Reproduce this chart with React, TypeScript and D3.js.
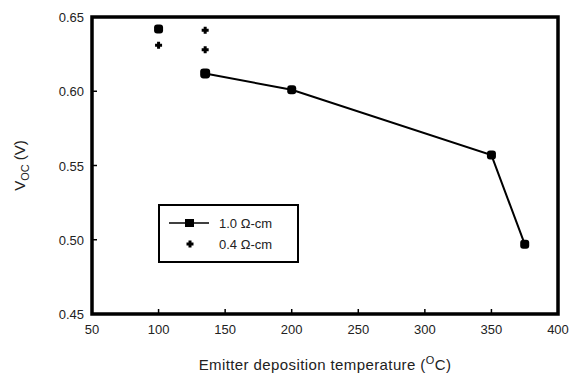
import React from "react";
import * as d3 from "d3";

const lineTemps = [135, 200, 350, 375];
const lineVoc = [0.612, 0.601, 0.557, 0.497];
const extra10Temps = [100];
const extra10Voc = [0.642];
const p04Temps = [100, 135, 135];
const p04Voc = [0.631, 0.641, 0.628];
const xTicks = [50, 100, 150, 200, 250, 300, 350, 400];
const yTicks = [0.45, 0.5, 0.55, 0.6, 0.65];
const legendLabels = ["1.0 Ω-cm", "0.4 Ω-cm"];

const W = 573, H = 379;
const L = 92, R = 558, T = 17, B = 314;

export default function App() {
  const x = d3.scaleLinear().domain([50, 400]).range([L, R]);
  const y = d3.scaleLinear().domain([0.45, 0.65]).range([B, T]);
  const line = d3.line<number>().x((d, i) => x(lineTemps[i])).y((d) => y(d));
  const font = "Liberation Sans, Arial, sans-serif";
  const plus = (cx: number, cy: number, k: string) => (
    <path key={k} d={`M${cx - 3.5},${cy}h7M${cx},${cy - 3.5}v7`} stroke="#000" strokeWidth={3} />
  );
  const marker = (cx: number, cy: number, s: number, k: string) => (
    <rect key={k} x={cx - s / 2} y={cy - s / 2} width={s} height={s} rx={s / 3} fill="#000" />
  );
  return (
    <svg width={W} height={H} style={{ position: "absolute", left: 0, top: 0, background: "#fff" }}>
      <rect x={0} y={0} width={W} height={H} fill="#fff" />
      {xTicks.slice(1, -1).map((t) => (
        <line key={"xt" + t} x1={x(t)} x2={x(t)} y1={B} y2={B - 5} stroke="#000" strokeWidth={1.5} />
      ))}
      {yTicks.slice(1, -1).map((t) => (
        <line key={"yt" + t} x1={L} x2={L + 5} y1={y(t)} y2={y(t)} stroke="#000" strokeWidth={1.5} />
      ))}
      <rect x={L} y={T} width={R - L} height={B - T} fill="none" stroke="#000" strokeWidth={3.5} />
      {xTicks.map((t) => (
        <text key={"xl" + t} x={x(t)} y={B + 20} textAnchor="middle" fontFamily={font} fontSize={13} fill="#222">
          {t}
        </text>
      ))}
      {yTicks.map((t) => (
        <text key={"yl" + t} x={L - 8} y={y(t) + 5} textAnchor="end" fontFamily={font} fontSize={13} fill="#222">
          {t.toFixed(2)}
        </text>
      ))}
      <text x={325} y={370} textAnchor="middle" fontFamily={font} fontSize={15} fill="#222" letterSpacing={0.4}>
        Emitter deposition temperature (<tspan dy={-6} fontSize={11}>O</tspan>
        <tspan dy={6}>C)</tspan>
      </text>
      <text transform={`translate(25,${(T + B) / 2}) rotate(-90)`} textAnchor="middle" fontFamily={font} fontSize={15} fill="#222">
        V<tspan dy={4} fontSize={11}>OC</tspan>
        <tspan dy={-4}> (V)</tspan>
      </text>
      <path d={line(lineVoc) || ""} fill="none" stroke="#000" strokeWidth={2} />
      {lineVoc.map((v, i) => marker(x(lineTemps[i]), y(v), i === 0 ? 10 : 9, "l" + i))}
      {extra10Voc.map((v, i) => marker(x(extra10Temps[i]), y(v), 9, "e" + i))}
      {p04Voc.map((v, i) => plus(x(p04Temps[i]), y(v), "p" + i))}
      <rect x={159} y={205} width={139} height={57} fill="#fff" stroke="#000" strokeWidth={2} />
      <line x1={169} x2={209} y1={223} y2={223} stroke="#000" strokeWidth={1.5} />
      <rect x={185} y={219} width={9} height={8} fill="#000" />
      {plus(190, 244, "lg")}
      <text x={219} y={228} fontFamily={font} fontSize={13} fill="#222">{legendLabels[0]}</text>
      <text x={219} y={249} fontFamily={font} fontSize={13} fill="#222">{legendLabels[1]}</text>
    </svg>
  );
}
